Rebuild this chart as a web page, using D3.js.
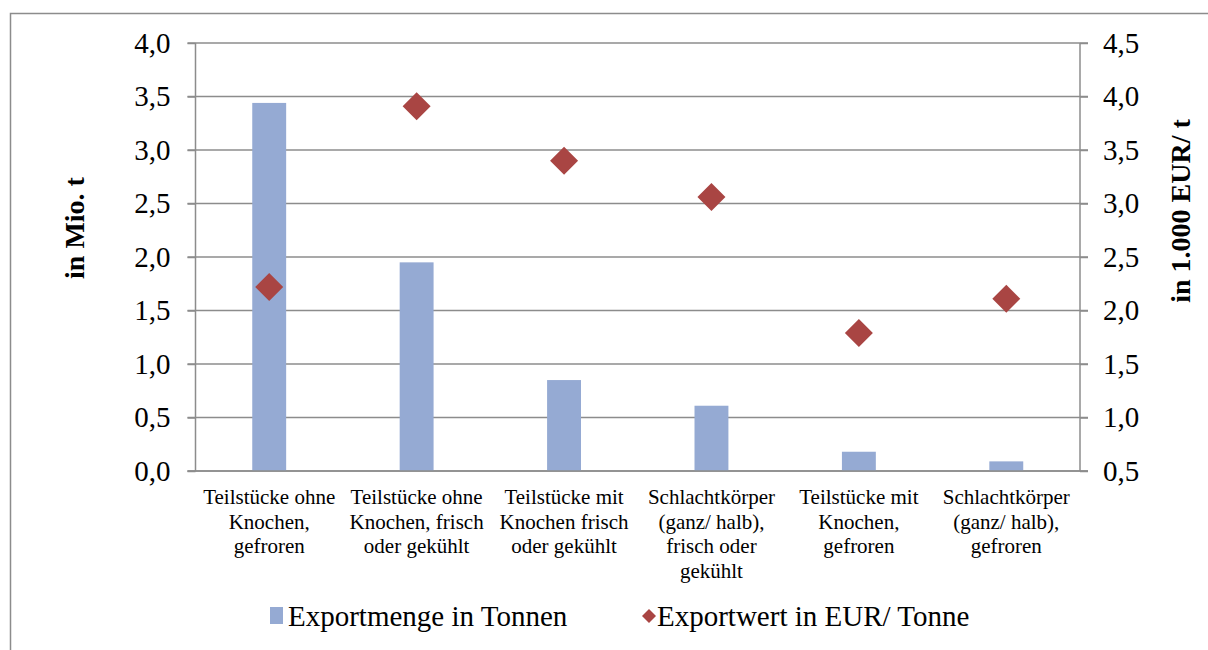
<!DOCTYPE html>
<html>
<head>
<meta charset="utf-8">
<script src="https://cdn.jsdelivr.net/npm/d3@7"></script>
<style>
  body { margin: 0; background: #fff; }
  svg { display: block; }
  text { font-family: "Liberation Serif", "Times New Roman", serif; fill: #000; }
</style>
</head>
<body>
<svg width="1208" height="650"></svg>
<script>
// categories, one array of lines per label
let categories = [
  ["Teilstücke ohne", "Knochen,", "gefroren"],
  ["Teilstücke ohne", "Knochen, frisch", "oder gekühlt"],
  ["Teilstücke mit", "Knochen frisch", "oder gekühlt"],
  ["Schlachtkörper", "(ganz/ halb),", "frisch oder", "gekühlt"],
  ["Teilstücke mit", "Knochen,", "gefroren"],
  ["Schlachtkörper", "(ganz/ halb),", "gefroren"]
];
// Exportmenge in Mio. t (left axis)
let menge = [3.44, 1.95, 0.85, 0.61, 0.18, 0.09];
// Exportwert in 1.000 EUR/ t (right axis)
let wert = [2.22, 3.91, 3.40, 3.06, 1.79, 2.11];

let leftTicks = [0, 0.5, 1, 1.5, 2, 2.5, 3, 3.5, 4];
let rightTicks = [0.5, 1, 1.5, 2, 2.5, 3, 3.5, 4, 4.5];

let barColor = "#95aad3";
let markColor = "#a94543";
let gridColor = "#8c8c8c";
let serif = "Liberation Serif";

var margin = { top: 43, right: 128, bottom: 179, left: 195.5 };
let width = 1208 - margin.left - margin.right;
let height = 650 - margin.top - margin.bottom;

var svg = d3.select("svg");

// outer frame (cut off on the right and bottom)
svg
  .append("rect")
  .attr("x", 10.5)
  .attr("y", 13.5)
  .attr("width", 1400)
  .attr("height", 800)
  .attr("fill", "none")
  .attr("stroke", gridColor)
  .attr("stroke-width", 1.5);

var g = svg
  .append("g")
  .attr("transform", "translate(" + margin.left + "," + margin.top + ")");

var xScale = d3
  .scaleBand()
  .domain(d3.range(categories.length))
  .range([0, width]);
var yLeft = d3.scaleLinear().domain([0, 4]).range([height, 0]);
var yRight = d3.scaleLinear().domain([0.5, 4.5]).range([height, 0]);

let fmt = d => d3.format(".1f")(d).replace(".", ",");

// gridlines
g.append("g")
  .attr("class", "grid")
  .selectAll("line")
  .data(leftTicks)
  .enter()
  .append("line")
  .attr("x1", -8)
  .attr("x2", width + 8)
  .attr("y1", d => yLeft(d))
  .attr("y2", d => yLeft(d))
  .attr("stroke", gridColor)
  .attr("stroke-width", 1.5);

// left axis
var yAxisL = d3
  .axisLeft(yLeft)
  .tickValues(leftTicks)
  .tickFormat(fmt)
  .tickSize(8)
  .tickPadding(17);
var gl = g.append("g").attr("class", "y axis").call(yAxisL);

// right axis
var yAxisR = d3
  .axisRight(yRight)
  .tickValues(rightTicks)
  .tickFormat(fmt)
  .tickSize(8)
  .tickPadding(15);
var gr = g
  .append("g")
  .attr("class", "y2 axis")
  .attr("transform", "translate(" + width + ",0)")
  .call(yAxisR);

[gl, gr].forEach(a => {
  a.attr("font-family", serif);
  a.selectAll("path.domain")
    .attr("stroke", gridColor)
    .attr("stroke-width", 1.5)
    .attr("d", "M0,0V" + height);
  a.selectAll(".tick line").attr("stroke", gridColor).attr("stroke-width", 1.5);
  a.selectAll(".tick text")
    .attr("font-size", "29px")
    .attr("font-family", serif)
    .attr("fill", "#000");
});

// bars
let barW = xScale.bandwidth() * 0.23;
g.selectAll(".bar")
  .data(menge)
  .enter()
  .append("rect")
  .attr("class", "bar")
  .attr("x", (d, i) => xScale(i) + xScale.bandwidth() / 2 - barW / 2)
  .attr("width", barW)
  .attr("y", d => yLeft(d))
  .attr("height", d => height - yLeft(d))
  .attr("fill", barColor);

// x axis line on top of bars
g.append("line")
  .attr("x1", -8)
  .attr("x2", width + 8)
  .attr("y1", height)
  .attr("y2", height)
  .attr("stroke", gridColor)
  .attr("stroke-width", 1.5);

// diamonds
var diamond = d3.symbol().type(d3.symbolSquare).size(14 * 14 * 2);
g.selectAll(".mark")
  .data(wert)
  .enter()
  .append("path")
  .attr("class", "mark")
  .attr("d", diamond)
  .attr(
    "transform",
    (d, i) =>
      "translate(" +
      (xScale(i) + xScale.bandwidth() / 2) +
      "," +
      yRight(d) +
      ") rotate(45)"
  )
  .attr("fill", markColor);

// category labels
var labels = g
  .selectAll(".cat")
  .data(categories)
  .enter()
  .append("text")
  .attr("class", "cat")
  .attr("text-anchor", "middle")
  .attr("font-family", serif)
  .attr("font-size", "21px")
  .attr("transform", (d, i) => "translate(" + (xScale(i) + xScale.bandwidth() / 2) + "," + (height + 33) + ")");
labels
  .selectAll("tspan")
  .data(d => d)
  .enter()
  .append("tspan")
  .attr("x", 0)
  .attr("y", (d, i) => i * 24.5)
  .text(d => d);

// axis titles
svg
  .append("text")
  .attr("transform", "translate(84,228) rotate(-90)")
  .attr("text-anchor", "middle")
  .attr("font-family", serif)
  .attr("font-size", "28px")
  .attr("font-weight", "bold")
  .text("in Mio. t");

svg
  .append("text")
  .attr("transform", "translate(1190,211) rotate(-90)")
  .attr("text-anchor", "middle")
  .attr("font-family", serif)
  .attr("font-size", "28px")
  .attr("font-weight", "bold")
  .text("in 1.000 EUR/ t");

// legend
var legend = svg.append("g").attr("class", "legend");
legend
  .append("rect")
  .attr("x", 270)
  .attr("y", 607)
  .attr("width", 13)
  .attr("height", 17)
  .attr("fill", barColor);
legend
  .append("text")
  .attr("x", 288)
  .attr("y", 626)
  .attr("font-family", serif)
  .attr("font-size", "29px")
  .text("Exportmenge in Tonnen");
legend
  .append("path")
  .attr("d", d3.symbol().type(d3.symbolSquare).size(7 * 7 * 2))
  .attr("transform", "translate(649,616) rotate(45)")
  .attr("fill", markColor);
legend
  .append("text")
  .attr("x", 657)
  .attr("y", 626)
  .attr("font-family", serif)
  .attr("font-size", "29px")
  .text("Exportwert in EUR/ Tonne");
</script>
</body>
</html>
